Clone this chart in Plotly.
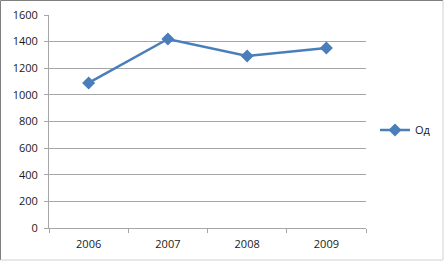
import plotly.graph_objects as go

years = ["2006", "2007", "2008", "2009"]
values = [1090, 1420, 1292, 1352]
series_name = "Од"
y_ticks = [0, 200, 400, 600, 800, 1000, 1200, 1400, 1600]

W, H = 446, 262
L, R, T, B = 49, 80, 15, 34
pw, ph = W - L - R, H - T - B

def px(x):
    return (x - L) / pw

def py(y):
    return (H - B - y) / ph

fig = go.Figure()
fig.add_trace(go.Scatter(
    x=years, y=values, name=series_name, mode="lines+markers",
    line=dict(color="#4A7EBB", width=2.5),
    marker=dict(symbol="diamond", size=10, color="#4A7EBB"),
))

shapes = [
    dict(type="line", xref="paper", yref="paper", x0=px(0.5), x1=px(0.5), y0=py(0.5), y1=py(260), line=dict(color="#7f7f7f", width=1)),
    dict(type="line", xref="paper", yref="paper", x0=px(0.5), x1=px(443), y0=py(0.5), y1=py(0.5), line=dict(color="#7f7f7f", width=1)),
    dict(type="line", xref="paper", yref="paper", x0=px(443), x1=px(443), y0=py(0.5), y1=py(260), line=dict(color="#d0d0d0", width=1)),
    dict(type="line", xref="paper", yref="paper", x0=px(0.5), x1=px(443), y0=py(260), y1=py(260), line=dict(color="#d0d0d0", width=1)),
]

fig.update_layout(
    width=W, height=H,
    margin=dict(l=L, r=R, t=T, b=B, autoexpand=False),
    paper_bgcolor="white", plot_bgcolor="white",
    font=dict(family="Open Sans, Liberation Sans, sans-serif", size=11, color="#1a1a1a"),
    showlegend=True,
    legend=dict(x=px(375), y=py(130), xanchor="left", yanchor="middle",
                font=dict(size=11), bgcolor="rgba(0,0,0,0)"),
    shapes=shapes,
    xaxis=dict(type="category", range=[-0.5, 3.5], tickson="boundaries", ticks="outside", ticklen=4,
               tickcolor="#a6a6a6", showline=True, linecolor="#a6a6a6", linewidth=1,
               ticklabelstandoff=6,
               showgrid=False, zeroline=False, fixedrange=True),
    yaxis=dict(range=[0, 1600], tickvals=y_ticks, ticks="outside", ticklen=4,
               tickcolor="#a6a6a6", showline=True, linecolor="#a6a6a6",
               ticklabelstandoff=4,
               gridcolor="#a6a6a6", gridwidth=1, zeroline=False, fixedrange=True),
)

fig.write_html("out.html")
